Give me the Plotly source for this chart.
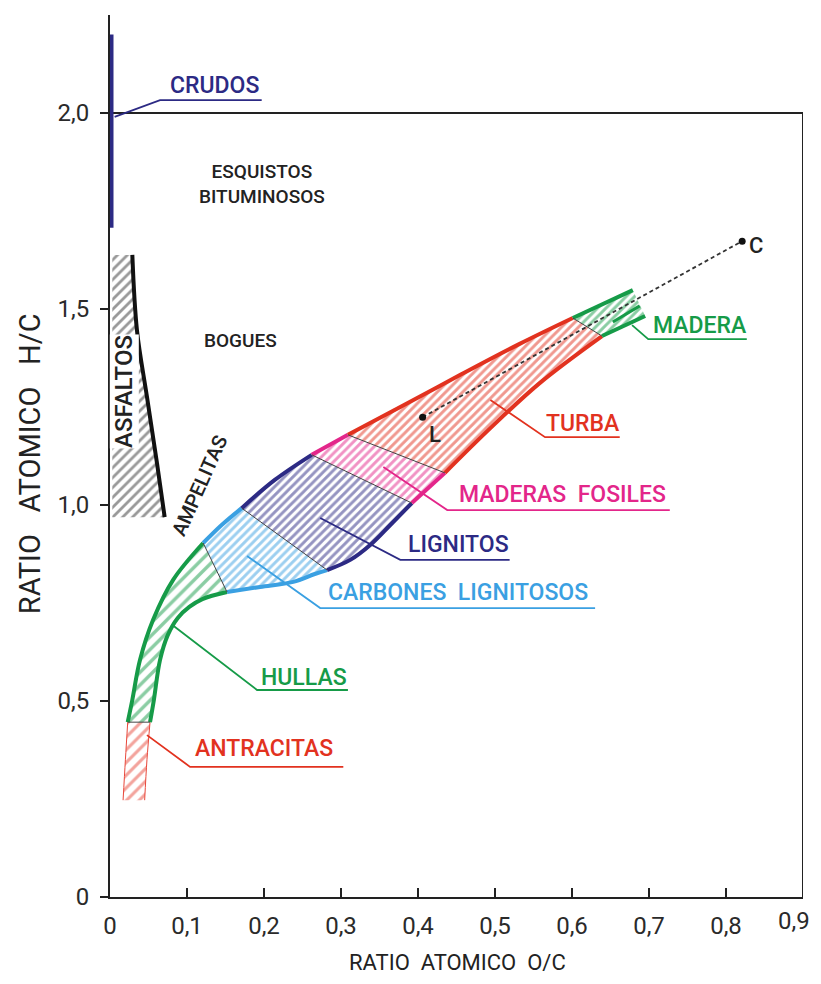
import plotly.graph_objects as go

# ---------------- axis ticks ----------------
x_tick_vals = [0, 0.1, 0.2, 0.3, 0.4, 0.5, 0.6, 0.7, 0.8, 0.9]
x_tick_text = ["0", "0,1", "0,2", "0,3", "0,4", "0,5", "0,6", "0,7", "0,8", "0,9"]
y_tick_vals = [0, 0.5, 1.0, 1.5, 2.0]
y_tick_text = ["0", "0,5", "1,0", "1,5", "2,0"]

# ---------------- region boundaries (O/C, H/C) ----------------
antracitas_upper_x = [0.017, 0.020, 0.023]
antracitas_upper_y = [0.247, 0.350, 0.446]
antracitas_lower_x = [0.045, 0.048, 0.052]
antracitas_lower_y = [0.247, 0.350, 0.446]

hullas_upper_x = [0.023, 0.029, 0.039, 0.056, 0.082, 0.121]
hullas_upper_y = [0.446, 0.503, 0.605, 0.707, 0.809, 0.903]
hullas_lower_x = [0.052, 0.057, 0.065, 0.075, 0.088, 0.103, 0.120, 0.152]
hullas_lower_y = [0.446, 0.503, 0.605, 0.668, 0.712, 0.740, 0.760, 0.778]

carbones_upper_x = [0.121, 0.145, 0.171]
carbones_upper_y = [0.903, 0.949, 0.992]
carbones_lower_x = [0.152, 0.195, 0.238, 0.266, 0.282]
carbones_lower_y = [0.778, 0.791, 0.804, 0.824, 0.834]

lignitos_upper_x = [0.171, 0.214, 0.262]
lignitos_upper_y = [0.992, 1.064, 1.128]
lignitos_lower_x = [0.282, 0.312, 0.338, 0.364, 0.392]
lignitos_lower_y = [0.834, 0.860, 0.898, 0.949, 1.005]

fosiles_upper_x = [0.262, 0.309]
fosiles_upper_y = [1.128, 1.179]
fosiles_lower_x = [0.392, 0.435]
fosiles_lower_y = [1.005, 1.082]

turba_upper_x = [0.309, 0.377, 0.455, 0.532, 0.601]
turba_upper_y = [1.179, 1.250, 1.332, 1.411, 1.477]
turba_lower_x = [0.435, 0.494, 0.558, 0.639]
turba_lower_y = [1.082, 1.196, 1.311, 1.431]

madera_upper_x = [0.601, 0.679]
madera_upper_y = [1.477, 1.548]
madera_lower_x = [0.639, 0.695]
madera_lower_y = [1.431, 1.482]
madera_mid_x = [0.653, 0.688]
madera_mid_y = [1.467, 1.508]

asfaltos_edge_x = [0.029, 0.035, 0.048, 0.061, 0.071]
asfaltos_edge_y = [1.638, 1.446, 1.276, 1.107, 0.969]
asfaltos_axis_x = 0.003

crudos_x = [0.0, 0.0]
crudos_y = [1.707, 2.20]

point_names = ["L", "C"]
point_x = [0.406, 0.821]
point_y = [1.224, 1.673]

# ---------------- labels and leader lines ----------------
label_text = ["CRUDOS", "MADERA", "TURBA", "MADERAS  FOSILES", "LIGNITOS",
              "CARBONES  LIGNITOSOS", "HULLAS", "ANTRACITAS"]
label_x = [0.136, 0.766, 0.614, 0.588, 0.452, 0.452, 0.252, 0.200]
label_y = [2.069, 1.459, 1.207, 1.026, 0.898, 0.778, 0.561, 0.380]
leader_x = [[0.006, 0.065, 0.197], [0.678, 0.699, 0.827], [0.494, 0.565, 0.662],
            [0.355, 0.438, 0.727], [0.273, 0.377, 0.519], [0.178, 0.273, 0.630],
            [0.081, 0.191, 0.309], [0.048, 0.104, 0.303]]
leader_y = [[1.990, 2.033, 2.033], [1.459, 1.423, 1.423], [1.268, 1.173, 1.173],
            [1.097, 0.987, 0.987], [0.967, 0.860, 0.860], [0.870, 0.737, 0.737],
            [0.694, 0.528, 0.528], [0.413, 0.332, 0.332]]

plain_text = ["ESQUISTOS<br>BITUMINOSOS", "BOGUES"]
plain_x = [0.197, 0.169]
plain_y = [1.82, 1.42]

RED = "#e2321f"
PINK = "#e3268a"
NAVY = "#2c2a84"
BLUE = "#3aa0e2"
GREEN = "#169b48"
DARK = "#222222"
label_color = [NAVY, GREEN, RED, PINK, NAVY, BLUE, GREEN, RED]

FONT = "Roboto, DejaVu Sans, sans-serif"

fig = go.Figure()


def add_region(ux, uy, lx, ly, color, size, edge_w, solidity):
    px = list(ux) + list(lx)[::-1] + [ux[0]]
    py = list(uy) + list(ly)[::-1] + [uy[0]]
    fig.add_trace(go.Scatter(
        x=px, y=py, mode="lines", fill="toself", line=dict(width=0, color=color),
        fillcolor="rgba(0,0,0,0)",
        fillpattern=dict(shape="/", fgcolor=color, bgcolor="white", size=size, solidity=solidity),
        hoverinfo="skip", showlegend=False))
    if edge_w:
        for xs, ys in ((ux, uy), (lx, ly)):
            fig.add_trace(go.Scatter(x=xs, y=ys, mode="lines",
                                     line=dict(color=color, width=edge_w, shape="spline"),
                                     hoverinfo="skip", showlegend=False))


# asfaltos
asf_x = [asfaltos_axis_x] + asfaltos_edge_x + [asfaltos_axis_x, asfaltos_axis_x]
asf_y = [asfaltos_edge_y[0]] + asfaltos_edge_y + [asfaltos_edge_y[-1], asfaltos_edge_y[0]]
fig.add_trace(go.Scatter(
    x=asf_x, y=asf_y, mode="lines", fill="toself", line=dict(width=0, color=DARK),
    fillcolor="rgba(0,0,0,0)",
    fillpattern=dict(shape="/", fgcolor="#333333", bgcolor="white", size=7, solidity=0.4),
    hoverinfo="skip", showlegend=False))
fig.add_trace(go.Scatter(x=asfaltos_edge_x, y=asfaltos_edge_y, mode="lines",
                         line=dict(color="#111111", width=4, shape="spline"),
                         hoverinfo="skip", showlegend=False))

regions = [
    (antracitas_upper_x, antracitas_upper_y, antracitas_lower_x, antracitas_lower_y, "#e8473a", 9, 1, 0.35),
    (hullas_upper_x, hullas_upper_y, hullas_lower_x, hullas_lower_y, GREEN, 9, 4, 0.38),
    (carbones_upper_x, carbones_upper_y, carbones_lower_x, carbones_lower_y, BLUE, 6, 4, 0.48),
    (lignitos_upper_x, lignitos_upper_y, lignitos_lower_x, lignitos_lower_y, NAVY, 6, 4, 0.48),
    (fosiles_upper_x, fosiles_upper_y, fosiles_lower_x, fosiles_lower_y, PINK, 6, 4, 0.48),
    (turba_upper_x, turba_upper_y, turba_lower_x, turba_lower_y, RED, 6, 4, 0.48),
    (madera_upper_x, madera_upper_y, madera_lower_x, madera_lower_y, GREEN, 6, 4, 0.48),
]
for r in regions:
    add_region(*r)

fig.add_trace(go.Scatter(x=madera_mid_x, y=madera_mid_y, mode="lines",
                         line=dict(color=GREEN, width=3), hoverinfo="skip", showlegend=False))

# dividers between regions
for r in regions[:-1]:
    ux, uy, lx, ly = r[0], r[1], r[2], r[3]
    fig.add_trace(go.Scatter(x=[ux[-1], lx[-1]], y=[uy[-1], ly[-1]], mode="lines",
                             line=dict(color="#444444", width=1),
                             hoverinfo="skip", showlegend=False))

# crudos bar
fig.add_trace(go.Scatter(x=crudos_x, y=crudos_y, mode="lines",
                         line=dict(color=NAVY, width=7), hoverinfo="skip", showlegend=False))

# dashed L-C line and points
fig.add_trace(go.Scatter(x=point_x, y=point_y, mode="lines",
                         line=dict(color="#333333", width=1.8, dash="4px,3px"),
                         hoverinfo="skip", showlegend=False))
fig.add_trace(go.Scatter(x=point_x, y=point_y, mode="markers",
                         marker=dict(color="#111111", size=7),
                         hoverinfo="skip", showlegend=False))

# leader lines
for xs, ys, c in zip(leader_x, leader_y, label_color):
    fig.add_trace(go.Scatter(x=xs, y=ys, mode="lines", line=dict(color=c, width=1.8),
                             hoverinfo="skip", showlegend=False))

TICK_FONT = dict(family=FONT, size=24, color="#2a2a2a")

annotations = []
for t, x, y, c in zip(label_text, label_x, label_y, label_color):
    annotations.append(dict(x=x, y=y, xref="x", yref="y", text=t, showarrow=False,
                            font=dict(family=FONT, size=23, color=c, weight=500),
                            xanchor="center", yanchor="middle"))
for t, x, y in zip(plain_text, plain_x, plain_y):
    annotations.append(dict(x=x, y=y, xref="x", yref="y", text=t, showarrow=False,
                            font=dict(family=FONT, size=19, color=DARK, weight=500),
                            xanchor="center", yanchor="middle"))
annotations.append(dict(x=0.019, y=1.29, xref="x", yref="y", text="ASFALTOS", textangle=-90,
                        showarrow=False, bgcolor="white", borderpad=0,
                        font=dict(family=FONT, size=24, color=DARK, weight=500)))
annotations.append(dict(x=0.117, y=1.05, xref="x", yref="y", text="AMPELITAS", textangle=-66,
                        showarrow=False, font=dict(family=FONT, size=20, color=DARK, weight=500)))
annotations.append(dict(x=point_x[0] + 0.006, y=point_y[0] - 0.008, xref="x", yref="y", text=point_names[0],
                        showarrow=False, xanchor="left", yanchor="top",
                        font=dict(family=FONT, size=22, color=DARK, weight=500)))
annotations.append(dict(x=point_x[1] + 0.006, y=point_y[1] - 0.01, xref="x", yref="y", text=point_names[1],
                        showarrow=False, xanchor="left", yanchor="middle",
                        font=dict(family=FONT, size=22, color=DARK, weight=500)))
# last x tick label, kept inside the page edge
annotations.append(dict(x=1.0135, y=-0.0095, xref="paper", yref="paper", text=x_tick_text[-1],
                        showarrow=False, xanchor="right", yanchor="top", font=TICK_FONT))
annotations.append(dict(x=0.501, y=-0.0748, xref="paper", yref="paper", text="RATIO  ATOMICO  O/C",
                        showarrow=False, xanchor="center", yanchor="middle",
                        font=dict(family=FONT, size=22, color=DARK)))
annotations.append(dict(x=-0.115, y=0.491, xref="paper", yref="paper", text="RATIO   ATOMICO   H/C",
                        textangle=-90, showarrow=False, xanchor="center", yanchor="middle",
                        font=dict(family=FONT, size=29, color=DARK)))

shapes = [
    dict(type="line", xref="x", yref="y", x0=0, x1=0.9, y0=2.0, y1=2.0,
         line=dict(color=DARK, width=2), layer="below"),
    dict(type="line", xref="x", yref="y", x0=0.9, x1=0.9, y0=0, y1=2.0,
         line=dict(color=DARK, width=2), layer="below"),
]

fig.update_layout(
    width=805, height=968,
    margin=dict(l=102, r=10, t=7, b=79),
    plot_bgcolor="white", paper_bgcolor="white",
    showlegend=False,
    annotations=annotations,
    shapes=shapes,
    xaxis=dict(range=[0, 0.9], tickvals=x_tick_vals, ticktext=x_tick_text[:-1] + [""],
               showgrid=False, zeroline=False, showline=True, linecolor=DARK, linewidth=2,
               ticks="inside", ticklen=9, tickwidth=1.5, tickcolor=DARK,
               tickfont=TICK_FONT, ticklabelstandoff=6, fixedrange=True),
    yaxis=dict(range=[0, 2.25], tickvals=y_tick_vals, ticktext=y_tick_text,
               showgrid=False, zeroline=False, showline=True, linecolor=DARK, linewidth=2,
               ticks="outside", ticklen=8, tickwidth=1.5, tickcolor=DARK,
               tickfont=TICK_FONT, ticklabelstandoff=6, fixedrange=True),
)

fig.write_html("out.html", config={"displayModeBar": False})
